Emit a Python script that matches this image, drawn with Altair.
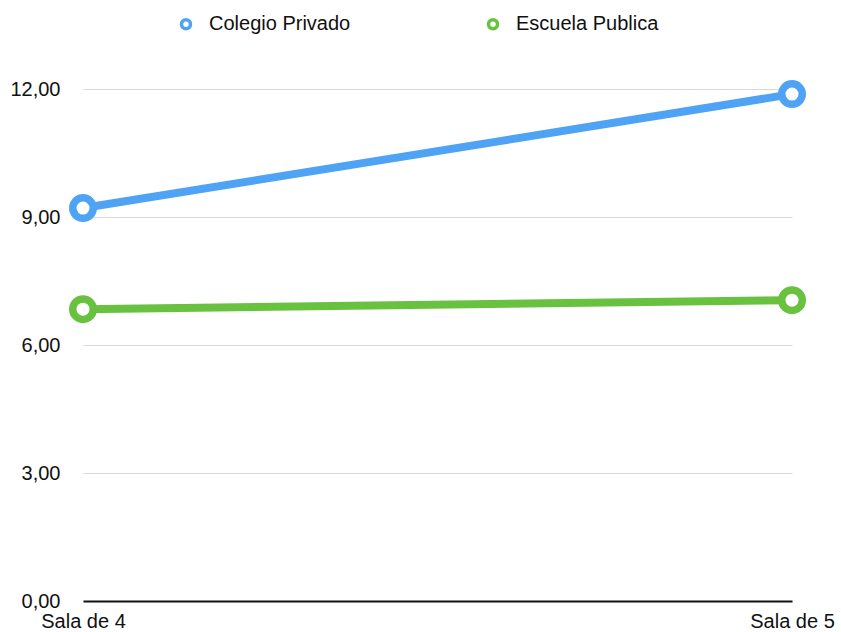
import altair as alt
import pandas as pd

categories = ["Sala de 4", "Sala de 5"]
series = ["Colegio Privado", "Escuela Publica"]
colegio_privado = [9.21, 11.88]
escuela_publica = [6.84, 7.05]
y_ticks = [0, 3, 6, 9, 12]
colors = ["#4fa3f5", "#69c23f"]

rows = []
for cat, v in zip(categories, colegio_privado):
    rows.append({"sala": cat, "serie": series[0], "valor": v})
for cat, v in zip(categories, escuela_publica):
    rows.append({"sala": cat, "serie": series[1], "valor": v})
df = pd.DataFrame(rows)

FONT = "Liberation Sans"

x = alt.X("sala:N", sort=categories,
          scale=alt.Scale(type="point", padding=0),
          axis=alt.Axis(title=None, labelAngle=0, labelFontSize=20, labelFont=FONT,
                        labelColor="#111111", ticks=False, grid=False,
                        domainColor="#111111", domainWidth=2, labelPadding=10))
y = alt.Y("valor:Q", scale=alt.Scale(domain=[0, 12], nice=False, zero=True),
          axis=alt.Axis(title=None, values=y_ticks, domain=False, ticks=False,
                        labelExpr="replace(format(datum.value, '.2f'), '.', ',')",
                        labelFontSize=20, labelFont=FONT, labelColor="#111111",
                        labelPadding=23, gridColor="#d9d9d9", gridWidth=1))
color = alt.Color("serie:N", sort=series,
                  scale=alt.Scale(domain=series, range=colors),
                  legend=alt.Legend(title=None, orient="none", legendX=93, legendY=-75,
                                    direction="horizontal", symbolType="circle",
                                    symbolFillColor="white", symbolStrokeWidth=3.5,
                                    symbolSize=80, labelFontSize=20, labelFont=FONT,
                                    labelColor="#111111", labelOffset=13,
                                    columnPadding=130, symbolOpacity=1))

base = alt.Chart(df)
lines = base.mark_line(strokeWidth=8, strokeCap="round").encode(x=x, y=y, color=color)
points = base.mark_point(shape="circle", filled=False, fill="white", fillOpacity=1,
                         strokeWidth=7.5, size=420, opacity=1).encode(
    x=x, y=y, color=alt.Color("serie:N", sort=series,
                              scale=alt.Scale(domain=series, range=colors), legend=None))

chart = alt.layer(lines, points).properties(
    width=709, height=512,
    autosize=alt.AutoSizeParams(type="none"),
    padding={"left": 83, "top": 89, "right": 49, "bottom": 31},
).configure(background="white").configure_view(stroke=None, strokeWidth=0)

chart.save("out.html", embed_options={"renderer": "svg", "actions": False})
